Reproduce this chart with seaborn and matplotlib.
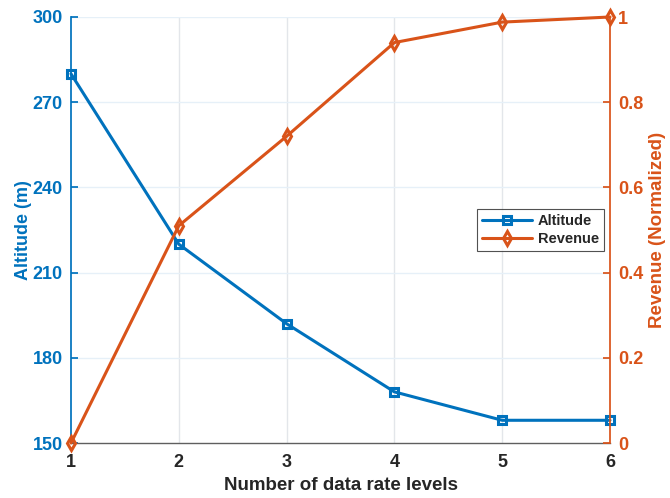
import matplotlib
matplotlib.use("Agg")
import matplotlib.pyplot as plt
import seaborn as sns
import pandas as pd
from matplotlib.lines import Line2D

levels = [1, 2, 3, 4, 5, 6]
altitude = [280, 220, 192, 168, 158, 158]
revenue = [0.0, 0.51, 0.72, 0.94, 0.988, 1.0]

alt_ticks = [150, 180, 210, 240, 270, 300]
rev_ticks = [0, 0.2, 0.4, 0.6, 0.8, 1]
rev_labels = ["0", "0.2", "0.4", "0.6", "0.8", "1"]

blue = "#0072BD"
orange = "#D95319"

sns.set_theme(style="white")
plt.rcParams["font.family"] = ["Liberation Sans", "DejaVu Sans"]
plt.rcParams["font.weight"] = "bold"

df = pd.DataFrame({"level": levels, "altitude": altitude, "revenue": revenue})

fig = plt.figure(figsize=(6.70, 4.98), dpi=100)
ax = fig.add_axes([71 / 670, 1 - 443 / 498, (610 - 71) / 670, (443 - 17) / 498])
ax2 = ax.twinx()

sns.lineplot(data=df, x="level", y="altitude", ax=ax, color=blue, linewidth=2.2,
             marker="s", markersize=6, markerfacecolor="none",
             markeredgecolor=blue, markeredgewidth=2.2, clip_on=False, zorder=3)
sns.lineplot(data=df, x="level", y="revenue", ax=ax2, color=orange, linewidth=2.2,
             marker="d", markersize=7, markerfacecolor="none",
             markeredgecolor=orange, markeredgewidth=2.2, clip_on=False, zorder=3)

ax.set_xlim(1, 6)
ax.set_ylim(150, 300)
ax2.set_ylim(0, 1)
ax.set_xticks(levels)
ax.set_yticks(alt_ticks)
ax2.set_yticks(rev_ticks)
ax2.set_yticklabels(rev_labels)

# grid lines
for x in levels[1:-1]:
    ax.axvline(x, color="#e3e6ea", linewidth=1.0, zorder=0)
for y in alt_ticks[1:]:
    ax.axhline(y, color="#e6f0f8", linewidth=1.0, zorder=0)

for a in (ax, ax2):
    for s in a.spines.values():
        s.set_visible(False)

ax.spines["left"].set_visible(True)
ax.spines["left"].set_color(blue)
ax.spines["bottom"].set_visible(True)
ax.spines["bottom"].set_color("#5f5f5f")
ax.spines["bottom"].set_linewidth(1.0)
ax2.spines["right"].set_visible(True)
ax2.spines["right"].set_color(orange)

ax.tick_params(axis="y", colors=blue, labelsize=13, length=5, direction="in", pad=6)
ax.tick_params(axis="x", colors="#5f5f5f", labelcolor="#262626", labelsize=13,
               length=5, direction="in", pad=8)
ax2.tick_params(axis="y", colors=orange, labelsize=13, length=5, direction="in", pad=6)
for lab in ax.get_xticklabels() + ax.get_yticklabels() + ax2.get_yticklabels():
    lab.set_fontweight("bold")

ax.set_xlabel("Number of data rate levels", fontsize=13.5, fontweight="bold",
              color="#262626", labelpad=4)
ax.set_ylabel("Altitude (m)", fontsize=13, fontweight="bold", color=blue, labelpad=0.5)
ax2.set_ylabel("Revenue (Normalized)", fontsize=13.5, fontweight="bold", color=orange,
               labelpad=4)

handles = [
    Line2D([], [], color=blue, linewidth=2.2, marker="s", markersize=6,
           markerfacecolor="none", markeredgewidth=2.2),
    Line2D([], [], color=orange, linewidth=2.2, marker="d", markersize=7,
           markerfacecolor="none", markeredgewidth=2.2),
]
leg = ax2.legend(handles, ["Altitude", "Revenue"], loc="center left",
                 bbox_to_anchor=((477 - 71) / 539, 1 - (230 - 17) / 426),
                 fontsize=10.5, frameon=True, fancybox=False, handlelength=3.4,
                 borderpad=0.35, labelspacing=0.25, handletextpad=0.4,
                 borderaxespad=0)
leg.get_frame().set_edgecolor("#262626")
leg.get_frame().set_linewidth(0.8)
for t in leg.get_texts():
    t.set_fontweight("bold")

fig.savefig("out.png", dpi=100)
